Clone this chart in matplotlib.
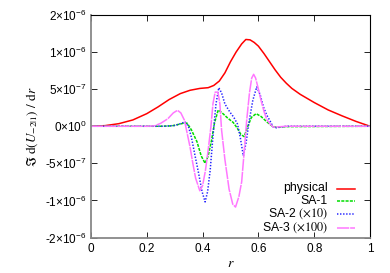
import matplotlib
matplotlib.use("Agg")
import matplotlib.pyplot as plt

plt.rcParams['font.family'] = ['Liberation Sans', 'DejaVu Sans']
plt.rcParams['mathtext.fontset'] = 'custom'
plt.rcParams['mathtext.rm'] = 'Liberation Sans'
plt.rcParams['mathtext.it'] = 'Liberation Sans:italic'

# ---- data (values in units of 1e-6) ----
r_phys = [0, 0.05, 0.1, 0.15, 0.2, 0.24, 0.28, 0.32, 0.355, 0.39, 0.42, 0.44, 0.46, 0.48,
          0.5, 0.52, 0.54, 0.555, 0.57, 0.585, 0.6, 0.62, 0.64, 0.66, 0.68, 0.7, 0.72, 0.75,
          0.8, 0.85, 0.9, 0.95, 1.0]
v_phys = [0, 0.008, 0.035, 0.085, 0.17, 0.26, 0.36, 0.44, 0.485, 0.51, 0.52, 0.55, 0.61, 0.72,
          0.87, 1.0, 1.11, 1.17, 1.165, 1.13, 1.08, 0.98, 0.87, 0.76, 0.66, 0.58, 0.51, 0.43,
          0.32, 0.22, 0.14, 0.065, 0.0]

r_sa1 = [0, 0.25, 0.29, 0.32, 0.335, 0.345, 0.36, 0.38, 0.395, 0.409, 0.42, 0.432, 0.443, 0.456,
         0.47, 0.49, 0.51, 0.525, 0.537, 0.549, 0.56, 0.575, 0.592, 0.61, 0.63, 0.65, 0.665, 0.7, 1.0]
v_sa1 = [0, 0, 0.005, 0.03, 0.045, 0.04, -0.05, -0.21, -0.40, -0.50, -0.40, -0.19, 0.05, 0.22,
         0.18, 0.11, 0.05, -0.03, -0.11, -0.14, -0.02, 0.12, 0.17, 0.13, 0.06, 0.0, -0.015, -0.005, 0]

r_sa2 = [0, 0.26, 0.3, 0.325, 0.337, 0.349, 0.36, 0.372, 0.385, 0.398, 0.409, 0.418, 0.427, 0.438,
         0.448, 0.458, 0.468, 0.48, 0.498, 0.512, 0.525, 0.535, 0.546, 0.556, 0.566, 0.58, 0.594,
         0.606, 0.618, 0.63, 0.642, 0.653, 0.665, 0.7, 1.0]
v_sa2 = [0, 0, 0.01, 0.04, 0.06, 0.0, -0.15, -0.38, -0.62, -0.88, -1.02, -0.88, -0.6, -0.1,
         0.3, 0.52, 0.45, 0.3, 0.19, 0.12, 0.03, -0.15, -0.40, -0.22, 0.05, 0.35, 0.53,
         0.43, 0.26, 0.15, 0.07, -0.01, -0.02, 0, 0]

r_sa3 = [0, 0.2, 0.227, 0.25, 0.275, 0.295, 0.31, 0.322, 0.335, 0.345, 0.355, 0.365, 0.375, 0.39,
         0.4, 0.41, 0.42, 0.43, 0.437, 0.445, 0.455, 0.462, 0.468, 0.48, 0.495, 0.508, 0.518, 0.53,
         0.54, 0.55, 0.558, 0.568, 0.576, 0.583, 0.59, 0.6, 0.61, 0.62, 0.63, 0.642, 0.653, 0.665,
         0.7, 1.0]
v_sa3 = [0, 0, 0.005, 0.04, 0.1, 0.18, 0.215, 0.18, 0.08, -0.1, -0.28, -0.5, -0.7, -0.87,
         -0.8, -0.6, -0.32, 0.0, 0.3, 0.46, 0.46, 0.3, -0.05, -0.45, -0.85, -1.05, -1.09, -0.95,
         -0.75, -0.3, 0.08, 0.45, 0.65, 0.70, 0.65, 0.5, 0.34, 0.2, 0.09, 0.03, -0.01, -0.01,
         0, 0]

x_ticks = [0, 0.2, 0.4, 0.6, 0.8, 1]
x_tick_labels = ['0', '0.2', '0.4', '0.6', '0.8', '1']
y_ticks = [-1.5e-6, -1e-6, -5e-7, 0, 5e-7, 1e-6, 1.5e-6]
y_tick_labels = ['-2×10$^{-6}$', '-1×10$^{-6}$', '-5×10$^{-7}$', '0×10$^{0}$',
                 '5×10$^{-7}$', '1×10$^{-6}$', '2×10$^{-6}$']

labels = ['physical', 'SA-1', 'SA-2 $(\\times10)$', 'SA-3 $(\\times100)$']
scale = 1e-6

fig = plt.figure(figsize=(3.9, 2.73), dpi=100)
X0, X1, YT, YB = 91, 370, 15, 237.5
ax = fig.add_axes([X0/390, 1-YB/273, (X1-X0)/390, (YB-YT)/273])

styles = [dict(color='#ff0000', lw=1.1, ls='-'),
          dict(color='#00dd00', lw=1.1, dashes=(2.0, 0.8)),
          dict(color='#2222ff', lw=1.1, dashes=(0.9, 1.1)),
          dict(color='#ff77ff', lw=1.1, dashes=(8, 0.6))]
series = [(r_phys, v_phys), (r_sa1, v_sa1), (r_sa2, v_sa2), (r_sa3, v_sa3)]

for (rr, vv), st in zip(series, styles):
    ax.plot(rr, [v*scale for v in vv], **st)

ax.set_xlim(0, 1)
ax.set_ylim(-1.5e-6, 1.5e-6)
ax.set_xticks(x_ticks)
ax.set_xticklabels(x_tick_labels)
ax.set_yticks(y_ticks)
ax.set_yticklabels(y_tick_labels)
ax.tick_params(direction='in', length=4, width=0.6, top=True, right=True, labelsize=8.5, pad=3)
ax.tick_params(axis='x', pad=4)

for s in ['left', 'bottom']:
    ax.spines[s].set_color('#888888')
    ax.spines[s].set_linewidth(1.3)
for s in ['top', 'right']:
    ax.spines[s].set_color('black')
    ax.spines[s].set_linewidth(0.8)

ax.set_xlabel('$r$', math_fontfamily='stix', fontsize=10, labelpad=1)
ax.set_ylabel(r'$\Im\ \mathrm{d}(U_{-2|1})\ /\ \mathrm{d}r$', math_fontfamily='stix',
              fontsize=9.5, labelpad=4)

# manual legend with right-aligned labels (gnuplot style)
def ax_x(px):
    return (px - X0) / (X1 - X0)

def ax_y(py):
    return (YB - py) / (YB - YT)

row_y = [188.5, 201.0, 214.0, 227.5]
for lab, st, py in zip(labels, styles, row_y):
    ax.text(ax_x(328), ax_y(py), lab, transform=ax.transAxes, ha='right', va='center',
            fontsize=8.8, family='Liberation Sans', math_fontfamily='stix')
    ax.plot([ax_x(337), ax_x(355)], [ax_y(py), ax_y(py)], transform=ax.transAxes, **st)

fig.savefig('out.png', dpi=100)
